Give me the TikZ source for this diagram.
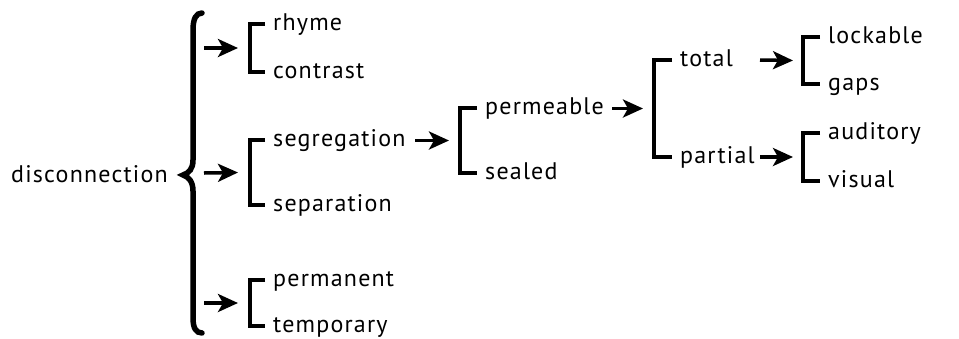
\documentclass[tikz,border=0pt]{standalone}
\usepackage{fontspec}
\setmainfont{PT Sans}[LetterSpace=5]
\usetikzlibrary{arrows.meta}
\begin{document}
\begin{tikzpicture}[x=1pt,y=-1pt,
  term/.style={inner sep=0pt, anchor=west, text height=17pt, text depth=5pt,
               font=\fontsize{24}{24}\selectfont},
  brk/.style={line width=4.5pt, line join=miter, line cap=butt},
  arr/.style={line width=3.5pt, -{Stealth[length=20pt,width=18pt,inset=5pt]}},
  brc/.style={line width=5.5pt, line cap=round}]
\useasboundingbox (0,0) rectangle (959,338);

% root term and the big brace
\node[term] (disc) at (11,176) {disconnection};
\draw[brc] (202,13) .. controls (196,13) and (193,19) .. (193,30)
  -- (193,160) .. controls (193,169) and (189,173) .. (183,175)
  .. controls (189,177) and (193,182) .. (193,191)
  -- (193,318) .. controls (193,328) and (196,333) .. (202,333);
\coordinate (r1) at (204,48);
\coordinate (r2) at (204,173);
\coordinate (r3) at (204,303);

% first level
\node[term] (rhyme) at (273,24) {rhyme};
\node[term] (contrast) at (273,72) {contrast};
\node[term] (segregation) at (273,140) {segregation};
\node[term] (separation) at (273,205) {separation};
\node[term] (permanent) at (273,280) {permanent};
\node[term] (temporary) at (273,326) {temporary};
\coordinate (s1) at (250,48);
\coordinate (s2) at (250,172.5);
\coordinate (s3) at (250,303);

% second and third levels
\node[term] (permeable) at (485,108) {permeable};
\node[term] (sealed) at (485,173) {sealed};
\coordinate (s4) at (460,140.5);
\node[term] (total) at (680,60) {total};
\node[term] (partial) at (680,157) {partial};
\coordinate (s5) at (654,108.5);

% fourth level
\node[term] (lockable) at (828,37) {lockable};
\node[term] (gaps) at (828,84) {gaps};
\node[term] (auditory) at (828,133) {auditory};
\node[term] (visual) at (828,181) {visual};
\coordinate (s6) at (803,60.5);
\coordinate (s7) at (803,157);
\coordinate (t6) at (760,60);
\coordinate (t7) at (760,157);

% square brackets grouping each pair
\foreach \a/\s/\b in {rhyme/s1/contrast, segregation/s2/separation,
    permanent/s3/temporary, permeable/s4/sealed, total/s5/partial,
    lockable/s6/gaps, auditory/s7/visual}
  \draw[brk] ([xshift=-8pt]\a.west) -| (\s) |- ([xshift=-8pt]\b.west);

% arrows
\draw[arr] (r1) -- ([xshift=-12pt]s1);
\draw[arr] (r2) -- ([xshift=-12pt]s2);
\draw[arr] (r3) -- ([xshift=-12pt]s3);
\draw[arr] (415,140.5) -- ([xshift=-11pt]s4);
\draw[arr] (612,108.5) -- ([xshift=-11pt]s5);
\draw[arr] (t6) -- ([xshift=-10pt]s6);
\draw[arr] (t7) -- ([xshift=-10pt]s7);
\end{tikzpicture}
\end{document}
